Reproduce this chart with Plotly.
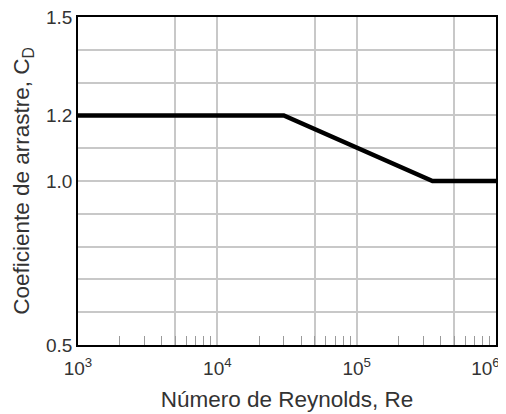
import plotly.graph_objects as go

# Data
re_values = [1e3, 3e4, 3.5e5, 1e6]
cd_values = [1.2, 1.2, 1.0, 1.0]

x_tick_vals = [1e3, 5e3, 1e4, 5e4, 1e5, 5e5, 1e6]
x_tick_text = ["10<sup>3</sup>", "", "10<sup>4</sup>", "", "10<sup>5</sup>", "",
               "10<sup>6</sup>&nbsp;&nbsp;&nbsp;&nbsp;"]
x_minor_vals = [k * 10 ** d for d in (3, 4, 5) for k in (2, 3, 4, 5, 6, 7, 8, 9)]

y_tick_vals = [0.5, 0.6, 0.7, 0.8, 0.9, 1.0, 1.1, 1.2, 1.3, 1.4, 1.5]
y_tick_text = ["0.5", "", "", "", "", "1.0", "", "1.2", "", "", "1.5"]

font_family = "Liberation Sans, Arial, sans-serif"
grid_color = "#c8c8c8"
text_color = "#333333"

fig = go.Figure()
fig.add_trace(go.Scatter(
    x=re_values, y=cd_values, mode="lines",
    line=dict(color="black", width=4.5),
    hoverinfo="skip", showlegend=False,
))

# page body has an 8px default margin, so the figure is sized/margined to compensate
fig.update_layout(
    width=498, height=406,
    margin=dict(l=70, r=10, t=9, b=69),
    paper_bgcolor="white", plot_bgcolor="white",
    font=dict(family=font_family, color=text_color),
    xaxis=dict(
        type="log", range=[3, 6], automargin=False,
        tickmode="array", tickvals=x_tick_vals, ticktext=x_tick_text,
        ticks="", tickfont=dict(size=19, color=text_color), ticklabelstandoff=5,
        ticklabeloverflow="allow",
        showgrid=True, gridcolor=grid_color, gridwidth=1.5,
        minor=dict(tickmode="array", tickvals=x_minor_vals, ticks="inside",
                   ticklen=9, tickcolor="#9a9a9a", tickwidth=1, showgrid=False),
        showline=True, linecolor="black", linewidth=1.5, mirror=True,
        zeroline=False,
        title=dict(text="Número de Reynolds, Re", font=dict(size=22.5, color=text_color), standoff=14),
    ),
    yaxis=dict(
        range=[0.5, 1.5], automargin=False,
        tickmode="array", tickvals=y_tick_vals, ticktext=y_tick_text,
        ticks="", tickfont=dict(size=19, color=text_color),
        ticklabeloverflow="allow",
        showgrid=True, gridcolor=grid_color, gridwidth=1.5,
        showline=True, linecolor="black", linewidth=1.5, mirror=True,
        zeroline=False,
        title=dict(text="Coeficiente de arrastre, C<sub>D</sub>", font=dict(size=22.5, color=text_color), standoff=10),
    ),
)

fig.write_html("out.html")
